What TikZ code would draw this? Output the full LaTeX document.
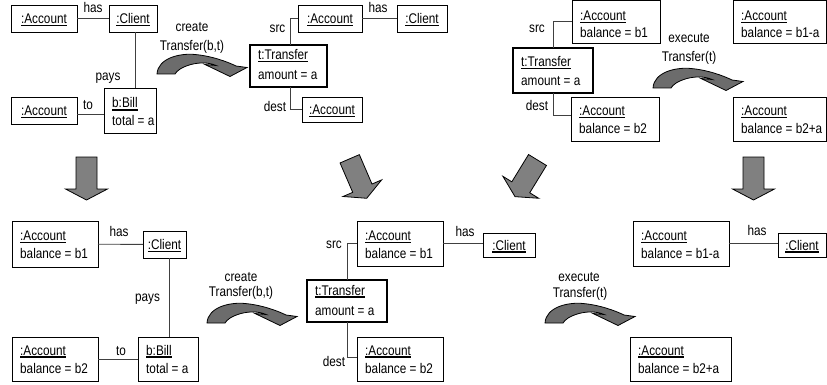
\documentclass[tikz,border=0pt]{standalone}
\usepackage{fontspec}
\setmainfont{Liberation Sans}[FakeStretch=0.84]

% object name, underlined with a heavy rule
\newcommand\uo[1]{\setbox0=\hbox{#1}\rlap{\rule[-2.9pt]{\wd0}{1.5pt}}\box0}
\newcommand\objfont{\fontsize{14}{17}\selectfont}

% single-line object box: name, x1, y1, x2, y2, title
\newcommand\objone[6]{%
  \node[objbox, text height=10pt, text depth=0pt,
        minimum width={(#4)-(#2)}, minimum height={(#5)-(#3)}]
        (#1) at ({((#2)+(#4))/2},{((#3)+(#5))/2}) {\uo{#6}};}

% two-line object box: name, x1, y1, x2, y2, title, attribute, baselines
\newcommand\objpair[9]{%
  \node[objbox, minimum width={(#4)-(#2)}, minimum height={(#5)-(#3)}]
        (#1) at ({((#2)+(#4))/2},{((#3)+(#5))/2}) {};
  \node[objtext] (#1-name) at ([shift={(8,#8)}]#1.north west) {\uo{#6}};
  \node[objtext] (#1-attr) at ([shift={(8,#9)}]#1.north west) {#7};}

% the transfer object, with its heavier frame
\newcommand\transferbox[7]{%
  \node[objbox, line width=2pt, minimum width={(#4)-(#2)}, minimum height={(#5)-(#3)}]
        (#1) at ({((#2)+(#4))/2},{((#3)+(#5))/2}) {};
  \node[objtext] (#1-name) at ([shift={(8,#6)}]#1.north west) {\uo{t:Transfer}};
  \node[objtext] (#1-attr) at ([shift={(8,#7)}]#1.north west) {amount = a};}

\tikzset{
  objbox/.style={draw=black, line width=0.9pt, fill=white, rectangle,
                 inner sep=0pt, outer sep=0pt, font=\objfont},
  objtext/.style={inner sep=0pt, anchor=base west, font=\objfont},
  lbl/.style={inner sep=0pt, anchor=base, font=\objfont, align=center},
  assoc/.style={draw=black!75, line width=0.9pt},
  bigarrow/.style={draw=black, line width=0.8pt, fill=gray, line join=miter},
  fatarrow/.pic={\path[bigarrow] (0,-10.5) -- (32,-10.5) -- (32,-21) -- (43,0)
                   -- (32,21) -- (32,10.5) -- (0,10.5) -- cycle;},
  turnarrow/.pic={\path[bigarrow, fill=gray!85!black] (0,0)
                   .. controls (1,-16) and (23,-21) .. (38,-19.5)
                   .. controls (55,-18) and (71,-12) .. (79,-8) -- (90,-6.5)
                   -- (73,2.5) -- (48,-9.5) -- (59,-8.5)
                   .. controls (51,-12) and (42,-11.5) .. (34,-9.5)
                   .. controls (25,-7) and (20,-3.5) .. (18,0) -- cycle;}
}

\begin{document}
\begin{tikzpicture}[x=1pt,y=-1pt]
\path[use as bounding box, fill=white] (0,0) rectangle (827,385);

% ---------- top left: client pays a bill ----------
\objone{a1}{11}{5}{77}{32}{:Account}
\objone{c1}{109}{5}{157}{32}{:Client}
\objpair{b1}{104}{88}{156}{133}{b:Bill}{total = a}{20}{38}
\objone{a2}{11}{97}{77}{124}{:Account}
\draw[assoc] (a1) -- (c1);
\draw[assoc] ([xshift=2pt]c1.south) -- ([xshift=2pt]c1.south |- b1.north);
\draw[assoc] ([yshift=-3.5pt]a2.east) -- ([yshift=-3.5pt]a2.east -| b1.west);
\node[lbl] (l1) at (93,13) {has};
\node[lbl] (l2) at (108,81) {pays};
\node[lbl] (l3) at (88,110) {to};

\pic (ta1) at (157,74) {turnarrow};
\node[lbl] (l4) at (192,31.5) {create};
\node[lbl] (l5) at (192,51) {Transfer(b,t)};

% ---------- top middle: the created transfer ----------
\objone{a3}{298}{5}{362}{32}{:Account}
\objone{c3}{397}{5}{447}{32}{:Client}
\transferbox{t3}{250}{45}{327}{87}{14.5}{35}
\objone{a4}{302}{97}{362}{122}{:Account}
\draw[assoc] (a3) -- (c3);
\draw[assoc] (a3.west) -| ([xshift=1.5pt]t3.north);
\draw[assoc] ([xshift=1.5pt]t3.south) |- (a4.west);
\node[lbl] (l6) at (378,13) {has};
\node[lbl] (l7) at (277.5,33) {src};
\node[lbl] (l8) at (275,111.5) {dest};

% ---------- top right: executing a transfer ----------
\objpair{a5}{572}{0.5}{660}{43}{:Account}{balance = b1}{20}{37.5}
\transferbox{t5}{513}{48}{593}{93}{18.5}{38}
\objpair{a6}{571}{97}{659}{141}{:Account}{balance = b2}{18.5}{36.5}
\draw[assoc] (a5.west) -| (t5.north);
\draw[assoc] (t5.south) |- ([yshift=4pt]a6.west);
\node[lbl] (l9) at (537,33) {src};
\node[lbl] (l10) at (537,111) {dest};

\pic (ta3) at (653,88) {turnarrow};
\node[lbl] (l11) at (689,43) {execute};
\node[lbl] (l12) at (689,62) {Transfer(t)};

\objpair{a7}{733}{0.5}{826}{43}{:Account}{balance = b1-a}{20}{37.5}
\objpair{a8}{733}{97}{826}{141}{:Account}{balance = b2+a}{18.5}{36.5}

% ---------- block arrows between the rows ----------
\pic[rotate=-90] (fa1) at (86.5,157) {fatarrow};
\pic[rotate=-66.7] (fa2) at (349.7,158.8) {fatarrow};
\pic[rotate=-121.5] (fa3) at (537.5,160) {fatarrow};
\pic[rotate=-90] (fa4) at (753.5,157) {fatarrow};

% ---------- bottom left ----------
\objpair{a9}{12}{221}{98}{267}{:Account}{balance = b1}{19.5}{37}
\objone{c9}{143}{231}{186}{258}{:Client}
\objpair{b9}{138}{337}{198}{381}{b:Bill}{total = a}{18}{36}
\objpair{a10}{12}{337}{98}{381}{:Account}{balance = b2}{18}{36}
\draw[assoc] (a9) -- (c9);
\draw[assoc] ([xshift=4.5pt]c9.south) -- ([xshift=4.5pt]c9.south |- b9.north);
\draw[assoc] (a10) -- (b9);
\node[lbl] (l13) at (119,236) {has};
\node[lbl] (l14) at (147.5,301) {pays};
\node[lbl] (l15) at (121,355) {to};

\pic (ta2) at (207,323) {turnarrow};
\node[lbl] (l16) at (241,281) {create};
\node[lbl] (l17) at (241,296) {Transfer(b,t)};

% ---------- bottom middle ----------
\objpair{a11}{357}{221}{443}{266}{:Account}{balance = b1}{19.5}{37}
\objone{c11}{483}{233}{535}{257}{:Client}
\transferbox{t11}{307}{280}{387}{322}{15}{35}
\objpair{a12}{357}{337}{443}{381}{:Account}{balance = b2}{18}{36}
\draw[assoc] (a11.east) -- (a11.east -| c11.west);
\draw[assoc] (a11.west) -| (t11.north);
\draw[assoc] (t11.south) |- ([yshift=1.5pt]a12.west);
\node[lbl] (l18) at (465,236.5) {has};
\node[lbl] (l19) at (334,248) {src};
\node[lbl] (l20) at (334,366) {dest};

\pic (ta4) at (545,323) {turnarrow};
\node[lbl] (l21) at (579,281.5) {execute};
\node[lbl] (l22) at (580,297) {Transfer(t)};

% ---------- bottom right ----------
\objpair{a13}{633}{221}{729}{266}{:Account}{balance = b1-a}{19.5}{37}
\objone{c13}{778}{233}{826}{257}{:Client}
\objpair{a14}{630}{337}{731}{381}{:Account}{balance = b2+a}{18}{36}
\draw[assoc] (a13.east) -- (a13.east -| c13.west);
\node[lbl] (l23) at (757,235.7) {has};
\end{tikzpicture}
\end{document}
